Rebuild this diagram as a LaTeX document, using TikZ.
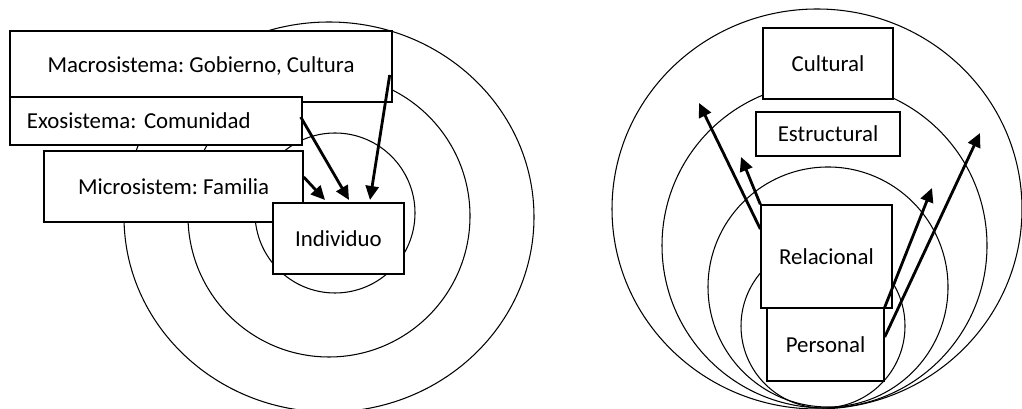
\documentclass[tikz,border=0pt]{standalone}
\usepackage{fontspec}
\setmainfont{Carlito}
\usetikzlibrary{arrows.meta}
\tikzset{
box/.style={draw, fill=white, line width=.8pt, inner sep=0pt}, % white boxes hide the rings behind them
ring/.style={draw, line width=.6pt},
link/.style={-{Triangle[length=2.8mm,width=2.6mm]}, line width=1.6pt}, % thick arrows
}

\begin{document}
\frenchspacing
\begin{tikzpicture}[font=\fontsize{13}{15}\selectfont]
        \useasboundingbox (0,0) rectangle (20.44,8.18);
        % left: Bronfenbrenner
        \draw[ring] (6.58,3.84) ellipse [x radius=4.1cm, y radius=3.9cm];
        \draw[ring] (6.58,3.86) circle [radius=2.82cm];
        \draw[ring] (6.70,3.92) circle [radius=1.6cm];
        \node[box, minimum width=7.64cm, minimum height=1.42cm] at (4.02,6.85) (macro) {Macrosistema: Gobierno, Cultura};
        \node[box, minimum width=5.84cm, minimum height=.96cm, inner xsep=.34cm, text width=5.16cm, align=left] at (3.12,5.76) (exo) {Exosistema: Comunidad};
        \node[box, minimum width=5.18cm, minimum height=1.42cm] at (3.47,4.45) (micro) {Microsistem: Familia};
        \node[box, minimum width=2.62cm, minimum height=1.42cm] at (6.77,3.41) (indiv) {Individuo};
        \coordinate (t1) at (6.50,4.18);
        \coordinate (t2) at (6.98,4.18);
        \coordinate (t3) at (7.40,4.18);
        \draw[link] ([yshift=.19cm]micro.east) -- (t1);
        \draw[link] ([shift={(-.04,.08)}]exo.east) -- (t2);
        \draw[link] ([shift={(-.06,-.17)}]macro.east) -- (t3);
        % right: levels
        \draw[ring] (16.34,4.00) ellipse [x radius=4.1cm, y radius=4.0cm];
        \draw[ring] (16.49,3.27) circle [radius=3.25cm];
        \draw[ring] (16.56,2.44) circle [radius=2.4cm];
        \draw[ring] (16.46,1.66) circle [radius=1.64cm];
        \node[box, minimum width=2.6cm, minimum height=1.42cm] at (16.56,6.91) (cult) {Cultural};
        \node[box, minimum width=2.88cm, minimum height=.88cm] at (16.56,5.50) (estr) {Estructural};
        \node[box, minimum width=2.62cm, minimum height=2.06cm] at (16.53,3.05) (relac) {Relacional};
        \node[box, minimum width=2.34cm, minimum height=1.46cm] at (16.51,1.29) (pers) {Personal};
        \coordinate (t4) at (13.98,6.12);
        \coordinate (t5) at (14.82,5.04);
        \coordinate (t6) at (18.64,4.42);
        \coordinate (t7) at (19.60,5.52);
        \draw[link] ([yshift=.55cm]relac.west) -- (t4);
        \draw[link] (relac.north west) -- (t5);
        \draw[link] (pers.north east) -- (t6);
        \draw[link] ([yshift=.15cm]pers.east) -- (t7);
    \end{tikzpicture}
\end{document}
